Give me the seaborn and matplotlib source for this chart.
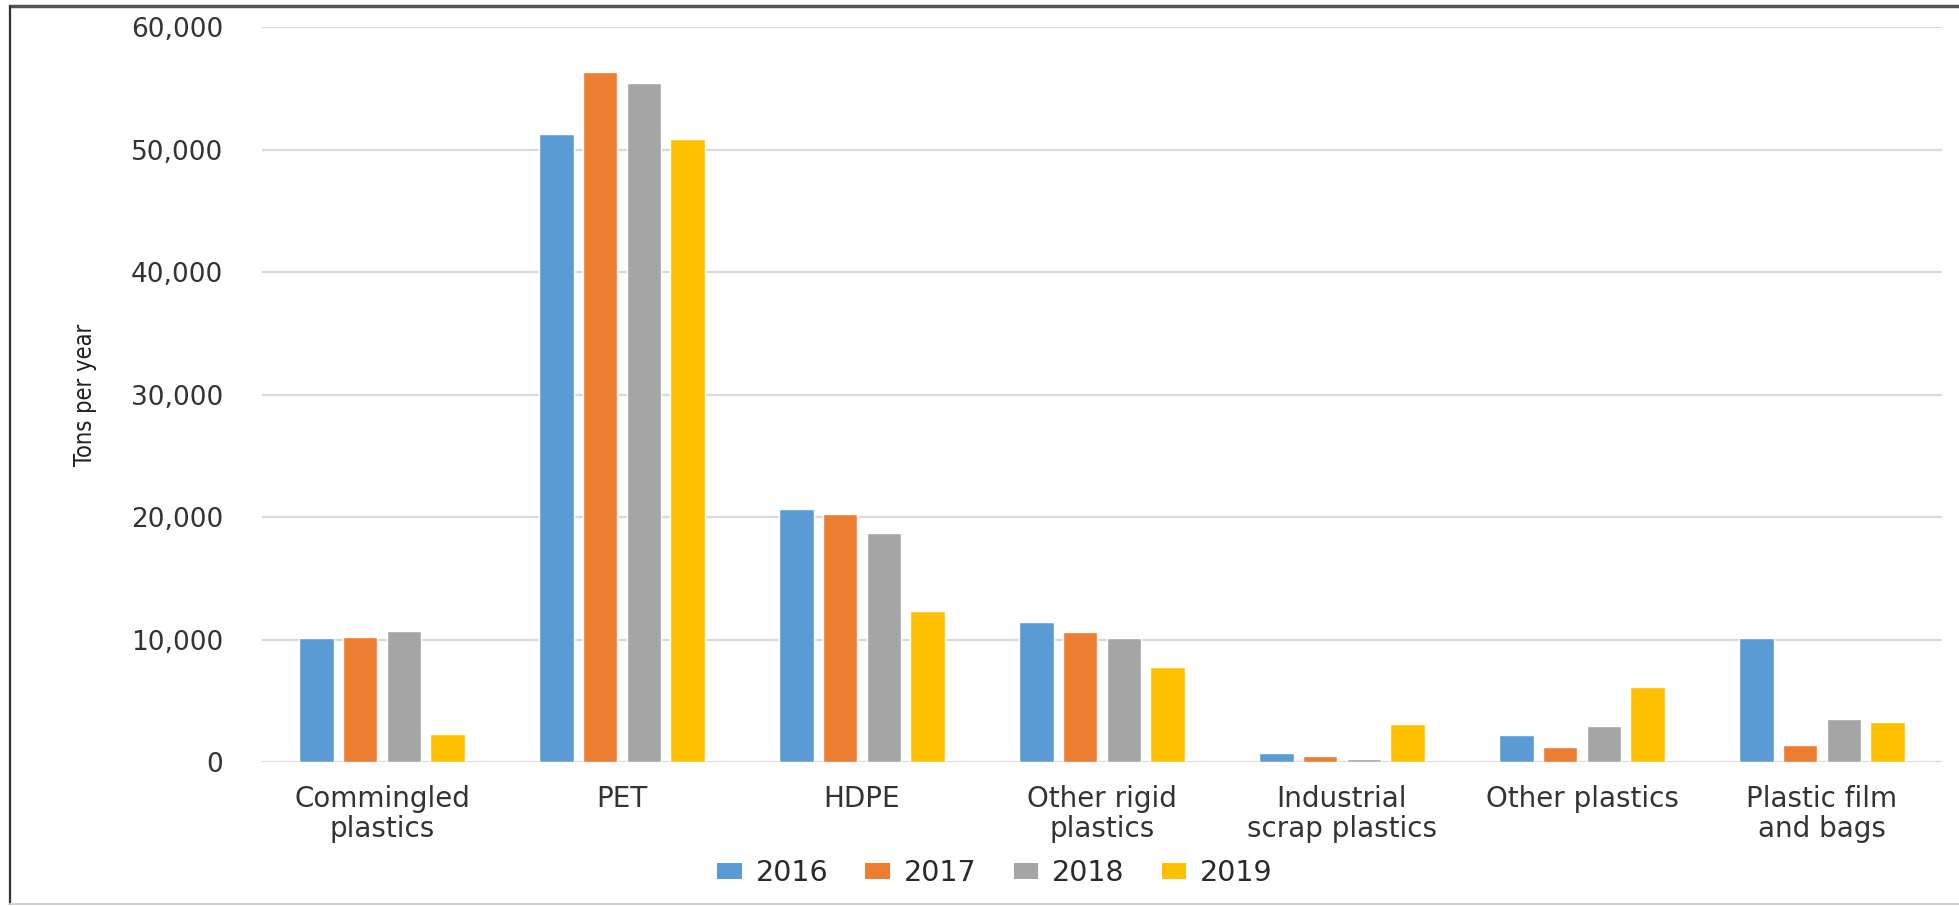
import matplotlib
matplotlib.use("Agg")
import matplotlib.pyplot as plt
import seaborn as sns
import pandas as pd
from matplotlib.lines import Line2D
from matplotlib.patches import Patch
from matplotlib.ticker import FuncFormatter, MultipleLocator

categories = ["Commingled\nplastics", "PET", "HDPE", "Other rigid\nplastics",
              "Industrial\nscrap plastics", "Other plastics", "Plastic film\nand bags"]
years = ["2016", "2017", "2018", "2019"]
v2016 = [10150, 51250, 20700, 11450, 750, 2250, 10150]
v2017 = [10200, 56300, 20300, 10600, 500, 1250, 1400]
v2018 = [10700, 55450, 18750, 10150, 280, 2950, 3550]
v2019 = [2350, 50850, 12350, 7750, 3150, 6150, 3300]
colors = ["#5B9BD5", "#ED7D31", "#A5A5A5", "#FFC000"]
y_label = "Tons per year"

series = [v2016, v2017, v2018, v2019]
rows = []
for yr, vals in zip(years, series):
    for cat, v in zip(categories, vals):
        rows.append({"category": cat, "year": yr, "value": v})
df = pd.DataFrame(rows)

sns.set_theme(style="white")
plt.rcParams["font.family"] = ["DejaVu Sans"]

fig = plt.figure(figsize=(19.59, 9.06), dpi=100)
ax = fig.add_axes([262 / 1959, 1 - 762.3 / 906, (1942 - 262) / 1959, (762.3 - 27) / 906])

sns.barplot(data=df, x="category", y="value", hue="year", order=categories,
            hue_order=years, palette=colors, saturation=1, width=0.728, gap=0.21,
            errorbar=None, ax=ax, legend=False, zorder=3)

ax.set_ylim(0, 60000)
ax.set_xlim(-0.5, len(categories) - 0.5)
ax.yaxis.set_major_locator(MultipleLocator(10000))
ax.yaxis.set_major_formatter(FuncFormatter(lambda v, p: f"{int(v):,}"))
ax.grid(axis="y", color="#D9D9D9", linewidth=1.6, zorder=0)
ax.set_axisbelow(True)
for s in ax.spines.values():
    s.set_visible(False)
ax.set_xlabel("")
ax.set_ylabel("")
ax.tick_params(axis="y", length=0, pad=28, labelsize=19, labelcolor="#333333")
ax.tick_params(axis="x", length=0, pad=16, labelsize=20, labelcolor="#333333")
for t in ax.get_xticklabels():
    t.set_linespacing(1.1)

fig.text(85 / 1959, 1 - 395 / 906, y_label, rotation=90, ha="center", va="center",
         fontsize=17, color="#202020", family="DejaVu Sans", fontstretch="condensed")

handles = [Patch(facecolor=c, edgecolor="none") for c in colors]
fig.legend(handles, years, loc="center", bbox_to_anchor=(995 / 1959, 1 - 873 / 906),
           ncol=4, frameon=False, fontsize=20.5, handlelength=0.85, handleheight=0.5,
           handletextpad=0.5, columnspacing=1.3, labelcolor="#2A2A2A")

# outer frame
fig.add_artist(Line2D([10 / 1959, 1], [1 - 6 / 906, 1 - 6 / 906], transform=fig.transFigure,
                      color="#555555", linewidth=2.5))
fig.add_artist(Line2D([10 / 1959, 10 / 1959], [1 - 6 / 906, 1 - 904 / 906], transform=fig.transFigure,
                      color="#333333", linewidth=1.6))
fig.add_artist(Line2D([10 / 1959, 1], [1 - 904 / 906, 1 - 904 / 906], transform=fig.transFigure,
                      color="#D0D0D0", linewidth=1.5))

fig.savefig("out.png", dpi=100)
